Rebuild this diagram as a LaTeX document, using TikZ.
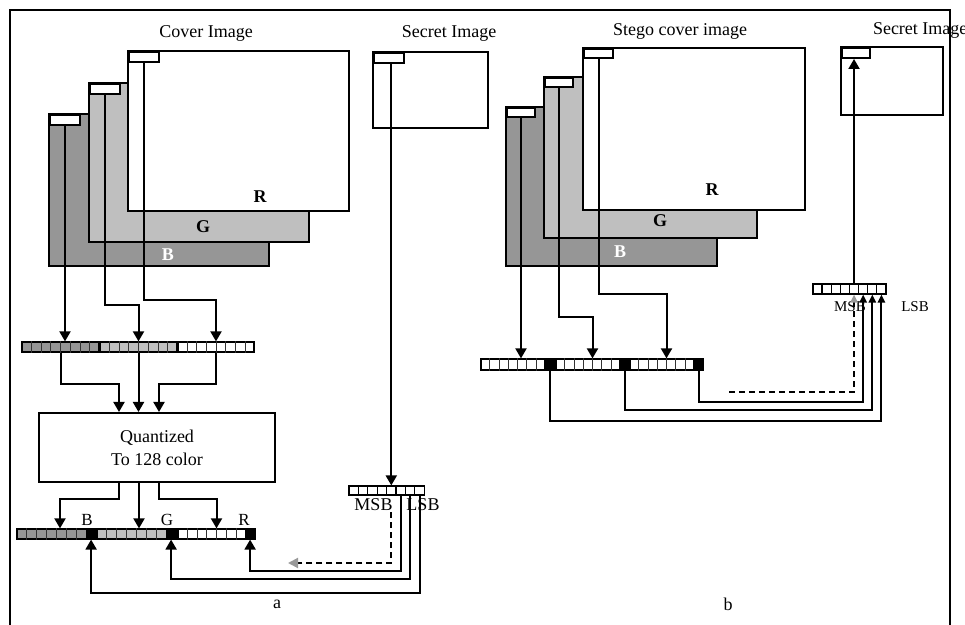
\documentclass[tikz,border=0pt]{standalone}
\usepackage{fontspec}
\setmainfont{Liberation Serif}
\usetikzlibrary{positioning,arrows.meta,calc}
\definecolor{planeB}{gray}{0.59}
\definecolor{planeG}{gray}{0.75}

\begin{document}
\begin{tikzpicture}[x=0.5pt,y=-0.5pt,line width=1pt,
  txt/.style={inner sep=0pt,font=\fontsize{9}{11.5}\selectfont},
  small/.style={inner sep=0pt,font=\fontsize{7.5}{9}\selectfont},
  plab/.style={inner sep=0pt,font=\fontsize{9}{10}\selectfont\bfseries},
  tab/.style={draw,fill=white,inner sep=0pt,anchor=north west,minimum width=15pt,minimum height=5pt},
  strip/.style={draw,line width=0.6pt,inner sep=0pt,minimum height=5pt},
  bit/.style={draw,line width=0.6pt,fill=white,inner sep=0pt},
  hit/.style={draw,line width=0.6pt,fill=black,inner sep=0pt,anchor=east,minimum width=4.9pt,minimum height=5pt},
  arr/.style={-{Triangle[length=5pt,width=5.5pt]}},
  sarr/.style={-{Triangle[length=4pt,width=3.6pt]}},
  dsh/.style={dash pattern=on 3pt off 2pt,-{Triangle[length=5pt,width=5pt,color=gray!80]}},
  sdsh/.style={dash pattern=on 3pt off 2pt,-{Triangle[length=4pt,width=3.6pt,color=gray!80]}}]
\useasboundingbox (0,0) rectangle (965,625);
\draw[line width=1.3pt] (10,625) -- (10,10) -- (950,10) -- (950,625);

\filldraw[fill=planeB] (49,114) rectangle (269,266);
\filldraw[fill=planeG] (89,83) rectangle (309,242);
\filldraw[fill=white] (128,51) rectangle (349,211);
\draw (373,52) rectangle (488,128);
\node[tab] (tabBa) at (49,114) {};
\node[tab] (tabGa) at (89,83) {};
\node[tab] (tabRa) at (128,51) {};
\node[tab] (tabSa) at (373,52) {};
\node[plab] (labRa) at (260,197) {R};
\node[plab] (labGa) at (203,227) {G};
\node[plab,text=white] (labBa) at (168,255) {B};
\node[txt] (coverT) at (206,33) {Cover Image};
\node[txt] (secretTa) at (449,33) {Secret Image};

\filldraw[fill=planeB] (506,107) rectangle (717,266);
\filldraw[fill=planeG] (544,77) rectangle (757,238);
\filldraw[fill=white] (583,48) rectangle (805,210);
\draw (841,47) rectangle (943,115);
\node[tab,minimum width=14pt,minimum height=4.75pt] (tabBb) at (506,107) {};
\node[tab,minimum width=14pt,minimum height=4.75pt] (tabGb) at (544,77) {};
\node[tab,minimum width=14.5pt,minimum height=4.75pt] (tabRb) at (583,48) {};
\node[tab,minimum width=14pt] (tabSb) at (841,47) {};
\node[plab] (labRb) at (712,190) {R};
\node[plab] (labGb) at (660,221) {G};
\node[plab,text=white] (labBb) at (620,252) {B};
\node[txt] (stegoT) at (680,31) {Stego cover image};
\node[txt,anchor=west] (secretTb) at (872,30) {Secret Image};

\node[strip,fill=planeB,minimum width=38.5pt] (stripBa) at (60.5,347) {};
\node[strip,fill=planeG,minimum width=38.5pt] (stripGa) at (138.5,347) {};
\node[strip,fill=white,minimum width=38pt] (stripRa) at (216,347) {};
\node[strip,fill=planeB,minimum width=39.5pt] (stripBb) at (56.5,534) {};
\node[strip,fill=planeG,minimum width=39.5pt] (stripGb) at (136.5,534) {};
\node[strip,fill=white,minimum width=38.5pt] (stripRb) at (216.5,534) {};
\node[strip,fill=white,minimum width=36.5pt,minimum height=5.5pt] (stripBc) at (517.5,364.5) {};
\node[strip,fill=white,minimum width=36.5pt,minimum height=5.5pt] (stripGc) at (592.5,364.5) {};
\node[strip,fill=white,minimum width=36.5pt,minimum height=5.5pt] (stripRc) at (666.5,364.5) {};
\foreach \s in {stripBa,stripGa,stripRa,stripBb,stripGb,stripRb,stripBc,stripGc,stripRc}
  \foreach \k in {1,...,7}
    \draw[line width=0.45pt,black!80] ($(\s.south west)!\k/8!(\s.south east)$) -- ($(\s.north west)!\k/8!(\s.north east)$);
\node[hit] (kB) at (stripBb.east) {};
\node[hit] (kG) at (stripGb.east) {};
\node[hit] (kR) at (stripRb.east) {};
\node[hit,minimum width=4.5pt,minimum height=5.5pt] (kBc) at (stripBc.east) {};
\node[hit,minimum width=4.5pt,minimum height=5.5pt] (kGc) at (stripGc.east) {};
\node[hit,minimum width=4.5pt,minimum height=5.5pt] (kRc) at (stripRc.east) {};
\foreach \k in {1,...,8} {
  \node[bit,minimum width=4.7pt,minimum height=4.5pt] (sa\k) at (344.3+9.4*\k,490.5) {};
  \node[bit,minimum width=4.56pt,minimum height=5pt] (sb\k) at (808.4+9.125*\k,289) {};
}

\node[draw,txt,minimum width=118pt,minimum height=34.5pt,align=center] (quant) at (157,447.5) {Quantized\\To 128 color};
\node[txt,font=\fontsize{8.5}{10}\selectfont] (labBq) at (87,520) {B};
\node[txt,font=\fontsize{8.5}{10}\selectfont] (labGq) at (167,520) {G};
\node[txt,font=\fontsize{8.5}{10}\selectfont] (labRq) at (244,520) {R};
\node[txt] (msbA) at (373.5,505) {MSB};
\node[txt] (lsbA) at (423,505) {LSB};
\node[small] (msbB) at (850,307) {MSB};
\node[small] (lsbB) at (915,307) {LSB};
\node[txt] (figA) at (277,604) {a};
\node[txt] (figB) at (728,604) {b};

\draw[arr] (tabBa.south) -- (tabBa.south |- stripBa.north);
\draw[arr] (tabGa.south) -- ++(0,210) -| (stripGa.north);
\draw[arr] (tabRa.south) -- ++(0,237) -| (stripRa.north);
\draw[arr] (stripBa.south) -- ++(0,31) -| ($(quant.north)+(-38,0)$);
\draw[arr] (stripGa.south) -- (stripGa.south |- quant.north);
\draw[arr] (stripRa.south) -- ++(0,31) -| ($(quant.north)+(2,0)$);
\draw[arr] ($(quant.south)+(-38,0)$) -- ++(0,16) -| ($(stripBb.north)+(3.5,0)$);
\draw[arr] ($(quant.south)+(-18,0)$) coordinate (qG) -- (qG |- stripGb.north);
\draw[arr] ($(quant.south)+(2,0)$) -- ++(0,16) -| (stripRb.north);
\draw[arr] (sa5.north |- tabSa.south) -- (sa5.north);
\draw[arr] (sa6.south) -- ++(0,75) -| (kR.south);
\draw[arr] (sa7.south) -- ++(0,83) -| (kG.south);
\draw[arr] (sa8.south) -- ++(0,97) -| (kB.south);
\coordinate (dropA) at (288,563);
\draw[dsh] (sa5.south |- msbA.south) |- (dropA);

\draw[arr] (tabBb.south) -- (tabBb.south |- stripBc.north);
\draw[arr] (tabGb.south) -- ++(0,229) -| (stripGc.north);
\draw[arr] (tabRb.south) -- ++(0,235) -| (stripRc.north);
\draw[sarr] (kRc.south) -- ++(0,31) -| (sb6.south);
\draw[sarr] (kGc.south) -- ++(0,39) -| (sb7.south);
\draw[sarr] (kBc.south) -- ++(0,50) -| (sb8.south);
\coordinate (dropB) at (729,392);
\draw[sdsh] (dropB) -| (sb5.south);
\draw[arr] (sb5.north) -- (sb5.north |- tabSb.south);
\end{tikzpicture}
\end{document}
